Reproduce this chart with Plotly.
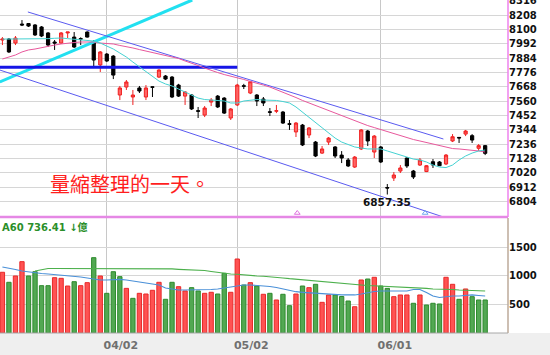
import plotly.graph_objects as go

# ---------------- data ----------------
idx = list(range(75))
tick_pos = [16, 36, 58]
tick_text = ["04/02", "05/02", "06/01"]
price_ticks = [8316, 8208, 8100, 7992, 7884, 7776, 7668, 7560, 7452, 7344, 7236, 7128, 7020, 6912, 6804]
vol_ticks = [500, 1000, 1500]

ohlc = [
    (8020, 8042, 7982, 8027), (8027, 8035, 7922, 7930), (7997, 8050, 7982, 8035), (8140, 8170, 8125, 8133),
    (8144, 8148, 8118, 8125), (8133, 8140, 8050, 8058), (8118, 8125, 8042, 8050), (8073, 8080, 7967, 7982),
    (8005, 8020, 7945, 7997), (7997, 8080, 7990, 8073), (8073, 8080, 8035, 8080), (8042, 8080, 7960, 7967),
    (8030, 8040, 7982, 8027), (8080, 8085, 8038, 8042), (8005, 8020, 7809, 7869), (7832, 7937, 7779, 7930),
    (7914, 7922, 7854, 7862), (7899, 7906, 7726, 7756), (7606, 7674, 7568, 7659), (7666, 7719, 7644, 7704),
    (7591, 7644, 7531, 7606), (7659, 7674, 7621, 7636), (7591, 7681, 7568, 7659), (7668, 7670, 7591, 7664),
    (7741, 7800, 7734, 7794), (7749, 7756, 7719, 7726), (7741, 7749, 7583, 7591), (7681, 7690, 7591, 7598),
    (7598, 7636, 7531, 7629), (7606, 7613, 7493, 7501), (7488, 7516, 7433, 7484), (7455, 7523, 7440, 7508),
    (7553, 7583, 7523, 7568), (7598, 7606, 7508, 7516), (7583, 7590, 7463, 7470), (7433, 7508, 7418, 7501),
    (7531, 7690, 7523, 7681), (7676, 7690, 7651, 7672), (7621, 7712, 7613, 7706), (7606, 7613, 7523, 7561),
    (7576, 7591, 7523, 7546), (7480, 7508, 7448, 7476), (7484, 7531, 7470, 7488), (7478, 7486, 7388, 7395),
    (7390, 7418, 7343, 7386), (7328, 7403, 7290, 7395), (7380, 7388, 7222, 7230), (7305, 7365, 7282, 7358),
    (7252, 7260, 7139, 7147), (7169, 7222, 7162, 7200), (7252, 7290, 7230, 7282), (7215, 7222, 7132, 7147),
    (7154, 7184, 7094, 7132), (7117, 7132, 7064, 7072), (7064, 7147, 7057, 7139), (7200, 7350, 7192, 7343),
    (7335, 7343, 7222, 7260), (7177, 7305, 7132, 7297), (7215, 7222, 7094, 7102), (6910, 6936, 6857.35, 6906),
    (6981, 7026, 6959, 7004), (7034, 7079, 7019, 7057), (7132, 7139, 7057, 7072), (7034, 7042, 6974, 6989),
    (7079, 7132, 7072, 7117), (7030, 7079, 7026, 7074), (7104, 7124, 7057, 7079), (7102, 7109, 7072, 7074),
    (7087, 7162, 7079, 7154), (7260, 7312, 7252, 7292), (7287, 7290, 7245, 7283), (7312, 7343, 7297, 7335),
    (7300, 7312, 7245, 7267), (7205, 7237, 7185, 7225), (7225, 7230, 7154, 7167),
]
opens = [r[0] for r in ohlc]
highs = [r[1] for r in ohlc]
lows = [r[2] for r in ohlc]
closes = [r[3] for r in ohlc]

ma_cyan = [8027, 8027, 8027, 8027, 8030, 8030, 8027, 8030, 8033, 8035,
           8030, 8025, 8020, 8020, 8012, 7997, 7975, 7952, 7922, 7892,
           7854, 7817, 7779, 7741, 7711, 7689, 7674, 7651, 7629, 7606,
           7583, 7572, 7568, 7568, 7561, 7546, 7546, 7561, 7568, 7572,
           7568, 7568, 7565, 7557, 7546, 7516, 7478, 7440, 7395, 7358,
           7320, 7282, 7252, 7233, 7215, 7207, 7200, 7200, 7200, 7185,
           7169, 7154, 7139, 7124, 7117, 7102, 7079, 7064, 7060, 7079,
           7117, 7147, 7169, 7185, 7192]
ma_pink = [7877, 7892, 7907, 7930, 7945, 7952, 7963, 7975, 7982, 7990,
           7997, 8001, 8005, 8005, 8005, 7997, 7994, 7990, 7979, 7971,
           7960, 7948, 7937, 7926, 7915, 7907, 7892, 7881, 7862, 7847,
           7828, 7809, 7790, 7775, 7760, 7749, 7738, 7723, 7708, 7696,
           7681, 7666, 7647, 7629, 7610, 7587, 7565, 7546, 7527, 7508,
           7489, 7471, 7452, 7433, 7410, 7395, 7376, 7361, 7346, 7328,
           7312, 7297, 7282, 7271, 7260, 7248, 7237, 7222, 7211, 7203,
           7200, 7196, 7192, 7185, 7177]

volume = [1065, 889, 1000, 1251, 1000, 1075, 830, 830, 970, 959,
          824, 900, 830, 883, 1321, 1000, 696, 1075, 988, 783,
          608, 696, 684, 749, 889, 591, 889, 812, 737, 795,
          737, 696, 714, 684, 1047, 714, 1298, 842, 883, 824,
          679, 696, 579, 679, 479, 684, 824, 795, 854, 538,
          667, 667, 640, 561, 461, 930, 947, 977, 824, 783,
          637, 667, 667, 521, 667, 491, 521, 509, 977, 854,
          591, 772, 637, 579, 579]
vol_up = "rgrrggggrrrgrrgrgggrgrrrrggrrggrrggrrgrgrgrggrgrgrrgggrrgrggrrrgrgggrrgrggg"

vma_blue = [1158, 1140, 1114, 1087, 1070, 1061, 1044, 1035, 1026, 1017,
            1000, 991, 982, 965, 947, 930, 930, 938, 942, 930,
            912, 900, 877, 859, 842, 789, 772, 754, 754, 754,
            754, 754, 763, 772, 789, 812, 833, 842, 842, 837,
            830, 816, 798, 772, 745, 724, 714, 705, 698, 693,
            684, 675, 667, 667, 667, 684, 710, 728, 737, 737,
            737, 737, 737, 763, 763, 710, 649, 623, 637, 649,
            649, 658, 667, 658, 649]
vma_a60 = [None, None, None, None, None, 1087, 1114, 1131, 1131, 1131,
           1131, 1131, 1131, 1131, 1131, 1128, 1128, 1128, 1126, 1126,
           1125, 1125, 1124, 1124, 1123, 1123, 1123, 1117, 1114, 1109,
           1105, 1096, 1079, 1061, 1052, 1035, 1030, 1017, 1009, 1000,
           995, 988, 973, 965, 952, 942, 930, 912, 903, 889,
           880, 873, 868, 859, 851, 842, 833, 828, 824, 819,
           816, 810, 807, 798, 789, 781, 772, 772, 767, 763,
           754, 749, 744, 740, 736.41]

# drawn trend lines (index, price)
trend_cyan_x, trend_cyan_y = [-0.4, 29.1], [7704, 8321]
trend_hline_x, trend_hline_y = [-0.4, 36.0], [7815, 7815]
chan_up_x, chan_up_y = [3.9, 67.6], [8231, 7275]
chan_lo_x, chan_lo_y = [-0.4, 67.6], [7794, 6688]
marks_x, marks_y, marks_c = [45.2, 64.8], [6718, 6718], ["#e070e0", "#70a8f0"]

low_label = "6857.35"
note = "量縮整理的一天。"
a60_label = "A60 736.41 ↓億"

# ---------------- figure ----------------
W, H = 550, 355
xr = [-0.37, 77.5]
top_dom = [1 - 217 / H, 1]
vol_dom = [1 - 333 / H, 1 - 218 / H]
xdom = [0, 508 / W]

fig = go.Figure()

fig.add_trace(go.Scatter(x=trend_cyan_x, y=trend_cyan_y, mode="lines",
                         line=dict(color="#22e0f0", width=3), xaxis="x", yaxis="y"))
fig.add_trace(go.Scatter(x=trend_hline_x, y=trend_hline_y, mode="lines",
                         line=dict(color="#1515e6", width=3), xaxis="x", yaxis="y"))
fig.add_trace(go.Scatter(x=chan_up_x, y=chan_up_y, mode="lines",
                         line=dict(color="#5a5af0", width=1), xaxis="x", yaxis="y"))
fig.add_trace(go.Scatter(x=chan_lo_x, y=chan_lo_y, mode="lines",
                         line=dict(color="#5a5af0", width=1), xaxis="x", yaxis="y"))
fig.add_trace(go.Scatter(x=idx, y=ma_pink, mode="lines",
                         line=dict(color="#e8589c", width=1), xaxis="x", yaxis="y"))
fig.add_trace(go.Scatter(x=idx, y=ma_cyan, mode="lines",
                         line=dict(color="#45d2d2", width=1), xaxis="x", yaxis="y"))

fig.add_trace(go.Candlestick(
    x=idx, open=opens, high=highs, low=lows, close=closes,
    increasing=dict(line=dict(color="#f02020", width=1), fillcolor="#ff6464"),
    decreasing=dict(line=dict(color="#000000", width=1), fillcolor="#000000"),
    whiskerwidth=0, xaxis="x", yaxis="y"))

fig.add_trace(go.Scatter(x=marks_x, y=marks_y, mode="markers",
                         marker=dict(symbol="triangle-up-open", size=5, color=marks_c, line=dict(width=1)),
                         xaxis="x", yaxis="y"))

fig.add_trace(go.Bar(
    x=idx, y=volume, width=0.66,
    marker=dict(color=["#ff5252" if c == "r" else "#52a852" for c in vol_up],
                line=dict(color=["#e82828" if c == "r" else "#2c8a2c" for c in vol_up], width=1)),
    xaxis="x2", yaxis="y2"))
fig.add_trace(go.Scatter(x=idx, y=vma_a60, mode="lines",
                         line=dict(color="#4cb04c", width=1.2), xaxis="x2", yaxis="y2"))
fig.add_trace(go.Scatter(x=idx, y=vma_blue, mode="lines",
                         line=dict(color="#4a90d8", width=1.2), xaxis="x2", yaxis="y2"))

tickfont = dict(family="DejaVu Sans", size=10, color="#111111", weight="bold")

fig.update_layout(
    width=W, height=H, margin=dict(l=0, r=0, t=0, b=0),
    paper_bgcolor="white", plot_bgcolor="white", showlegend=False,
    xaxis=dict(domain=xdom, anchor="y", range=xr, tickvals=tick_pos, showticklabels=False,
               showgrid=True, gridcolor="#c8c8c8", gridwidth=1, zeroline=False, ticks="",
               rangeslider=dict(visible=False), fixedrange=True),
    xaxis2=dict(domain=xdom, anchor="y2", range=xr, tickvals=tick_pos, ticktext=tick_text,
                showgrid=True, gridcolor="#c8c8c8", gridwidth=1, zeroline=False, ticks="",
                tickfont=dict(family="DejaVu Sans", size=11, color="#707070", weight="bold"),
                ticklabelshift=14, ticklabelstandoff=4, matches="x"),
    yaxis=dict(domain=top_dom, anchor="x", range=[6688, 8321], side="right",
               tickvals=price_ticks, ticks="", tickfont=tickfont, showgrid=True,
               gridcolor="#d6d6d6", gridwidth=1, zeroline=False, automargin=False,
               ticklabeloverflow="allow"),
    yaxis2=dict(domain=vol_dom, anchor="x2", range=[0, 2017], side="right",
                tickvals=vol_ticks, ticks="", tickfont=tickfont, showgrid=True,
                gridcolor="#d6d6d6", gridwidth=1, zeroline=False, automargin=False,
                ticklabeloverflow="allow"),
    bargap=0.34,
)

shapes = [
    dict(type="rect", xref="paper", yref="paper", x0=0, x1=1, y0=0, y1=1 - 333 / H,
         fillcolor="#efefef", line=dict(width=0), layer="below"),
    dict(type="line", xref="paper", yref="paper", x0=0, x1=508 / W, y0=1 - 217 / H, y1=1 - 217 / H,
         line=dict(color="#e588e5", width=2.5)),
    dict(type="line", xref="paper", yref="paper", x0=508 / W, x1=508 / W, y0=1 - 217 / H, y1=1,
         line=dict(color="#ee82ee", width=1.5)),
    dict(type="line", xref="paper", yref="paper", x0=508 / W, x1=508 / W, y0=1 - 333 / H, y1=1 - 218 / H,
         line=dict(color="#bcaa9a", width=1.5)),
    dict(type="line", xref="paper", yref="paper", x0=0, x1=508 / W, y0=1 - 333 / H, y1=1 - 333 / H,
         line=dict(color="#a8a8a8", width=1)),
]
fig.update_layout(shapes=shapes)

fig.add_annotation(x=48 / W, y=1 - 183.5 / H, xref="paper", yref="paper", text=note,
                   showarrow=False, xanchor="left", yanchor="middle",
                   font=dict(family="Noto Sans CJK TC", size=20, color="#ff1e1e"))
fig.add_annotation(x=59, y=lows[59], xref="x", yref="y", text=low_label, showarrow=False,
                   xanchor="center", yanchor="top", yshift=1,
                   font=dict(family="DejaVu Sans", size=10.5, color="#111111", weight="bold"))
fig.add_annotation(x=0, y=1 - 226.5 / H, xref="paper", yref="paper", text=a60_label,
                   showarrow=False, xanchor="left", yanchor="middle",
                   font=dict(family="DejaVu Sans, Noto Sans CJK TC", size=10, color="#2a8f2a", weight="bold"))

fig.write_html("out.html")
